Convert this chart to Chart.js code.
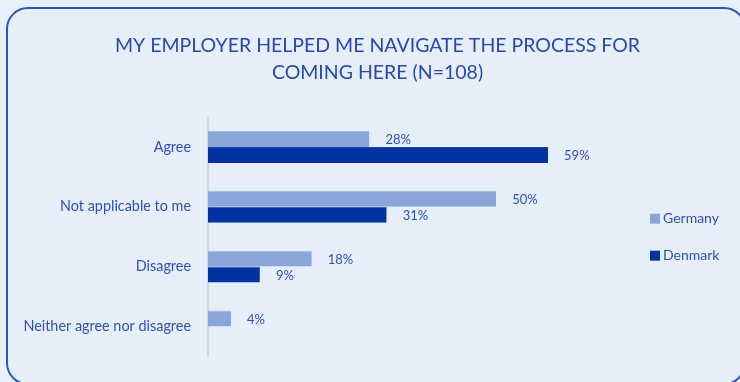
<!DOCTYPE html>
<html>
<head>
<meta charset="utf-8">
<script src="https://cdn.jsdelivr.net/npm/chart.js@4/dist/chart.umd.min.js"></script>
<style>
  html, body { margin: 0; padding: 0; background: #E8F0FB; }
  #wrap { position: relative; width: 740px; height: 382px; overflow: hidden; }
  #card {
    position: absolute; left: 6px; top: 7px; width: 736px; height: 374px;
    border: 2px solid #2F55BD; border-radius: 22px; background: #E6EEFA;
  }
  #c { position: absolute; left: 0; top: 0; }
</style>
</head>
<body>
<div id="wrap">
  <div id="card"></div>
  <canvas id="c" width="740" height="382"></canvas>
</div>
<script>
const categories = ['Agree', 'Not applicable to me', 'Disagree', 'Neither agree nor disagree'];
const germany = [28, 50, 18, 4];
const denmark = [59, 31, 9, null];
const titleLines = ['MY EMPLOYER HELPED ME NAVIGATE THE PROCESS FOR', 'COMING HERE (N=108)'];

const FONT = 'Lato, "Open Sans", sans-serif';
const TEXT_BLUE = '#3150B0';

// Percent labels printed just past the end of each bar
const valueLabels = {
  id: 'valueLabels',
  afterDatasetsDraw(chart) {
    const ctx = chart.ctx;
    ctx.save();
    ctx.font = '13px ' + FONT;
    ctx.fillStyle = TEXT_BLUE;
    ctx.textAlign = 'left';
    ctx.textBaseline = 'middle';
    chart.data.datasets.forEach((ds, di) => {
      const meta = chart.getDatasetMeta(di);
      meta.data.forEach((bar, i) => {
        const v = ds.data[i];
        if (v === null || v === undefined) return;
        ctx.fillText(v + '%', bar.x + 16, bar.y + 1);
      });
    });
    ctx.restore();
  }
};

// Series key stacked vertically in the space right of the plot
const sideLegend = {
  id: 'sideLegend',
  afterDraw(chart) {
    const ctx = chart.ctx;
    const area = chart.chartArea;
    const mid = (area.top + area.bottom) / 2;
    const x = area.right + 27;
    const rows = [mid - 18, mid + 19];
    ctx.save();
    ctx.font = '14px ' + FONT;
    ctx.textAlign = 'left';
    ctx.textBaseline = 'middle';
    chart.data.datasets.forEach((ds, i) => {
      const y = rows[i];
      ctx.fillStyle = ds.backgroundColor;
      ctx.fillRect(x, y - 5, 10, 10);
      ctx.fillStyle = TEXT_BLUE;
      ctx.fillText(ds.label, x + 13, y);
    });
    ctx.restore();
  }
};

new Chart(document.getElementById('c'), {
  type: 'bar',
  data: {
    labels: categories,
    datasets: [
      { label: 'Germany', data: germany, backgroundColor: '#8AA6D8', borderColor: '#A2B9E3', borderWidth: { top: 1 }, borderSkipped: false },
      { label: 'Denmark', data: denmark, backgroundColor: '#0033A0', borderColor: '#1C45AC', borderWidth: { top: 1 }, borderSkipped: false }
    ]
  },
  options: {
    indexAxis: 'y',
    responsive: false,
    animation: false,
    categoryPercentage: 0.5333,
    barPercentage: 1,
    layout: { padding: { left: 20, right: 5, top: 0, bottom: 25 } },
    scales: {
      x: { display: false, min: 0, max: 72 },
      y: {
        grid: { display: false, drawTicks: false },
        border: { display: true, color: '#D3D7DE', width: 2 },
        ticks: { color: TEXT_BLUE, font: { family: FONT, size: 14.4 }, padding: 17 },
        afterFit(scale) { scale.width = 188; }
      },
      // empty right-hand axis that keeps room for the series key
      keySpace: {
        type: 'category',
        position: 'right',
        grid: { display: false, drawTicks: false },
        border: { display: false },
        ticks: { display: false },
        afterFit(scale) { scale.width = 112; }
      }
    },
    plugins: {
      title: {
        display: true,
        text: titleLines,
        color: '#2A48AA',
        font: { family: FONT, size: 19.5, weight: 'normal', lineHeight: 1.385 },
        padding: { top: 32, bottom: 31 }
      },
      legend: { display: false },
      tooltip: { enabled: false }
    }
  },
  plugins: [valueLabels, sideLegend]
});
</script>
</body>
</html>
